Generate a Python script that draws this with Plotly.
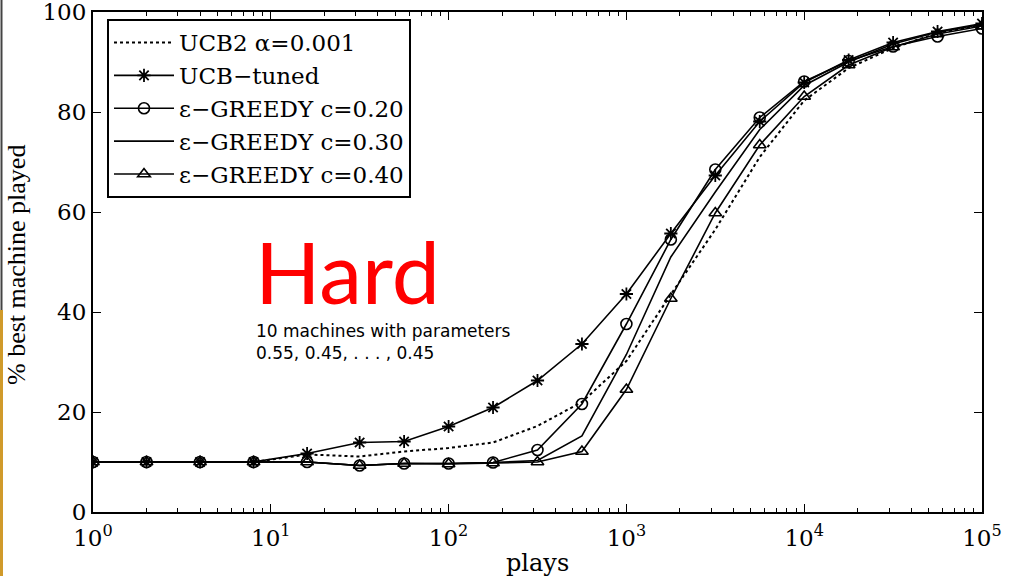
import plotly.graph_objects as go

# ---- data ----
plays = [1, 2, 4, 8, 16, 31.6, 56.2, 100, 177.8, 316.2, 562.3, 1000,
         1778, 3162, 5623, 10000, 17783, 31623, 56234, 100000]

ucb2 = [10, 10, 10, 10, 11.5, 11.1, 12.1, 12.8, 13.9, 17.2, 22.0, 30.2,
        43.5, 56.5, 71.0, 82.3, 88.8, 92.8, 95.8, 97.4]
ucb_tuned = [10, 10, 10, 10, 11.7, 13.9, 14.1, 17.1, 20.9, 26.3, 33.6, 43.6,
             55.7, 67.3, 78.1, 85.9, 90.4, 93.9, 96.1, 97.7]
greedy20 = [10, 10, 10, 10, 10, 9.3, 9.7, 9.7, 9.9, 12.4, 21.6, 37.6,
            54.5, 68.5, 78.9, 86.1, 90.2, 93.1, 95.1, 96.7]
greedy30 = [10, 10, 10, 10, 10, 9.3, 9.7, 9.7, 9.9, 10.3, 15.2, 31.5,
            51.0, 64.0, 76.5, 85.3, 90.0, 93.6, 96.0, 97.5]
greedy40 = [10, 10, 10, 10, 10, 9.3, 9.7, 9.6, 9.8, 10.0, 12.1, 24.5,
            42.7, 59.8, 73.4, 83.1, 89.4, 93.0, 95.6, 97.2]

series_names = ["UCB2 α=0.001", "UCB−tuned", "ε−GREEDY c=0.20",
                "ε−GREEDY c=0.30", "ε−GREEDY c=0.40"]

x_tickvals = [1, 10, 100, 1000, 10000, 100000]
x_ticktext = ["10<sup>0</sup>", "10<sup>1</sup>", "10<sup>2</sup>",
              "10<sup>3</sup>", "10<sup>4</sup>", "10<sup>5</sup>"]
y_tickvals = [0, 20, 40, 60, 80, 100]

SERIF = "Liberation Serif"
WSERIF = "DejaVu Serif"

# plot-area geometry in pixels
L, R, T, B = 93, 982, 12, 512
PW, PH = R - L, B - T


def px(xp):
    return (xp - L) / PW


def py(yp):
    return (B - yp) / PH


fig = go.Figure()
fig.add_trace(go.Scatter(x=plays, y=ucb2, name=series_names[0], mode="lines",
                         line=dict(color="black", width=2, dash="dot")))
fig.add_trace(go.Scatter(x=plays, y=ucb_tuned, name=series_names[1], mode="lines+markers",
                         line=dict(color="black", width=1.6),
                         marker=dict(symbol="asterisk-open", size=11, color="black",
                                     line=dict(color="black", width=1.8))))
fig.add_trace(go.Scatter(x=plays, y=greedy20, name=series_names[2], mode="lines+markers",
                         line=dict(color="black", width=1.6),
                         marker=dict(symbol="circle-open", size=11, color="black",
                                     line=dict(color="black", width=1.6))))
fig.add_trace(go.Scatter(x=plays, y=greedy30, name=series_names[3], mode="lines",
                         line=dict(color="black", width=1.6)))
fig.add_trace(go.Scatter(x=plays, y=greedy40, name=series_names[4], mode="lines+markers",
                         line=dict(color="black", width=1.6),
                         marker=dict(symbol="triangle-up-open", size=11, color="black",
                                     line=dict(color="black", width=1.6))))

fig.update_layout(
    width=1024, height=576,
    margin=dict(l=L, r=1024 - R, t=T, b=576 - B, autoexpand=False),
    paper_bgcolor="white", plot_bgcolor="white",
    showlegend=True,
    legend=dict(x=px(107), y=py(19), xanchor="left", yanchor="top",
                bgcolor="white", bordercolor="black", borderwidth=2,
                font=dict(family=WSERIF, size=23, color="black"),
                itemwidth=60, tracegroupgap=0),
    xaxis=dict(type="log", range=[0, 5], tickvals=x_tickvals, ticktext=x_ticktext,
               automargin=False, ticklabeloverflow="allow", ticklabelstandoff=4,
               ticks="inside", ticklen=8, tickcolor="black", tickwidth=1,
               showline=True, linecolor="black", linewidth=2, mirror="ticks",
               showgrid=False, zeroline=False,
               minor=dict(ticks="inside", ticklen=4, tickcolor="black", dtick="D1",
                          showgrid=False),
               tickfont=dict(family=WSERIF, size=23, color="black")),
    yaxis=dict(range=[0, 100], tickvals=y_tickvals, automargin=False,
               ticklabeloverflow="allow",
               ticks="inside", ticklen=8, tickcolor="black", tickwidth=1,
               showline=True, linecolor="black", linewidth=2, mirror="ticks",
               showgrid=False, zeroline=False,
               tickfont=dict(family=WSERIF, size=23, color="black")),
)

# Axis titles
fig.add_annotation(xref="paper", yref="paper", x=px(537), y=py(563),
                   xanchor="center", yanchor="middle", showarrow=False,
                   text="plays", font=dict(family=WSERIF, size=24, color="black"))
fig.add_annotation(xref="paper", yref="paper", x=px(16), y=py(265),
                   xanchor="center", yanchor="middle", showarrow=False, textangle=-90,
                   text="% best machine played",
                   font=dict(family=SERIF, size=26, color="black"))

# Slide annotations
fig.add_annotation(xref="paper", yref="paper", x=px(253), y=py(270),
                   xanchor="left", yanchor="middle", showarrow=False,
                   text="Hard", font=dict(family="Lato", size=86, color="#ff0000"))
fig.add_annotation(xref="paper", yref="paper", x=px(254), y=py(342),
                   xanchor="left", yanchor="middle", showarrow=False, align="left",
                   text="10 machines with parameters<br>0.55, 0.45, . . . , 0.45",
                   font=dict(family="DejaVu Sans", size=17, color="black"))

# Slide edge decoration on the far left
fig.add_shape(type="line", xref="paper", yref="paper",
              x0=px(1.5), x1=px(1.5), y0=py(0), y1=py(310),
              line=dict(color="#444444", width=2))
fig.add_shape(type="line", xref="paper", yref="paper",
              x0=px(1.5), x1=px(1.5), y0=py(310), y1=py(576),
              line=dict(color="#d09a2a", width=3))

fig.write_html("out.html", config={"displayModeBar": False},
               post_script="document.body.style.margin='0';document.body.style.overflow='hidden';")
